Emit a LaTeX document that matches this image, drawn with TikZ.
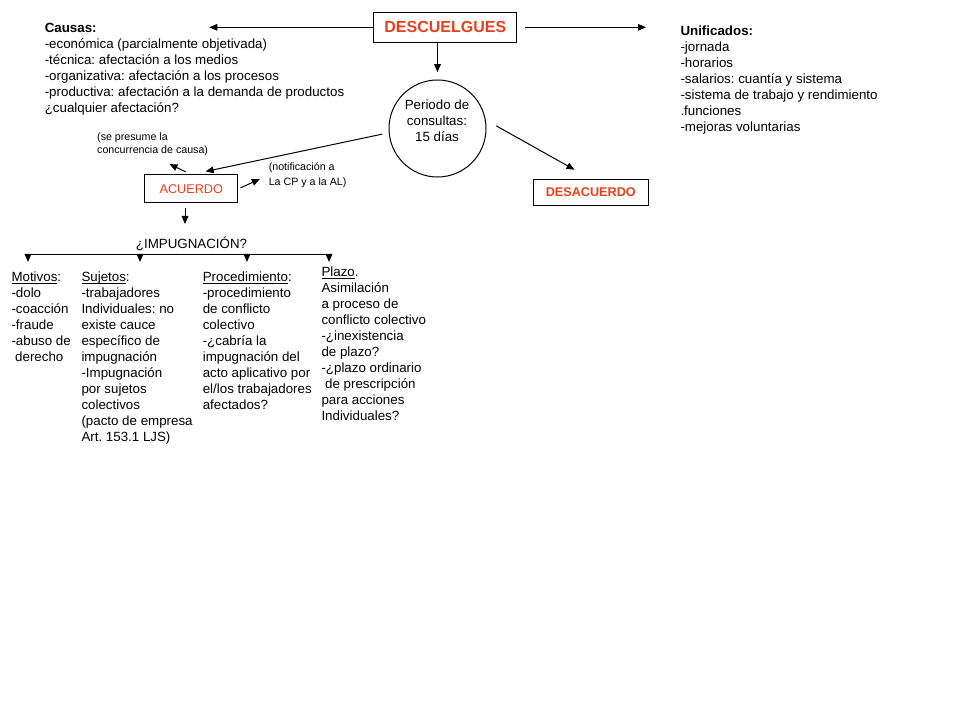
\documentclass[tikz,border=0pt]{standalone}
\usepackage{fontspec}
\setmainfont{Liberation Sans}
\usetikzlibrary{arrows.meta,calc}
\definecolor{descred}{RGB}{232,64,28}
\newcommand{\hdr}[1]{{\setbox0\hbox{#1}\dp0=0pt\underline{\box0}}}
\frenchspacing
\tikzset{every picture/.style={line width=0.75pt}}
\tikzset{
  arr/.style={-{Triangle[length=6pt,width=5pt]}},
  redbox/.style={draw, text=descred, inner sep=0pt},
  txt/.style={anchor=north west, inner sep=0pt, align=left, font=\fontsize{10pt}{12pt}\selectfont},
  smalltxt/.style={anchor=north west, inner sep=0pt, align=left, font=\fontsize{8pt}{9.5pt}\selectfont},
}

\begin{document}
\begin{tikzpicture}[x=0.75pt,y=0.75pt,yscale=-1,xscale=1]
\useasboundingbox (0,0) rectangle (960,720);

%Shape: Rectangle [DESCUELGUES]
\draw (445.3,27.3) node (desc) [redbox, minimum width=107pt, minimum height=22.5pt, font=\fontsize{12pt}{14pt}\selectfont\bfseries] {DESCUELGUES};
%Shape: Circle [periodo]
\draw (437.5,128.5) node (periodo) [draw, circle, minimum size=72.75pt, inner sep=0pt] {};
%Shape: Rectangle [ACUERDO]
\draw (191.3,189) node (acuerdo) [redbox, minimum width=69.5pt, minimum height=21pt, font=\fontsize{9.5pt}{11pt}\selectfont] {ACUERDO\hspace{6pt}};
%Shape: Rectangle [DESACUERDO]
\draw (590.8,192.2) node (desacuerdo) [redbox, minimum width=86.25pt, minimum height=19.3pt, font=\fontsize{9.5pt}{11pt}\selectfont\bfseries] {DESACUERDO};

% Text Node
\draw (437,120.7) node (perlbl) [inner sep=0pt, align=center, font=\fontsize{10pt}{12pt}\selectfont] {Periodo de\\consultas:\\15 días};
% Text Node
\draw (44.3,22.5) node (causas) [txt] {\textbf{Causas:}\\-económica (parcialmente objetivada)\\-técnica: afectación a los medios\\-organizativa: afectación a los procesos\\-productiva: afectación a la demanda de productos\\¿cualquier afectación?};
% Text Node
\draw (680,25.5) node (unif) [txt] {\textbf{Unificados:}\\-jornada\\-horarios\\-salarios: cuantía y sistema\\-sistema de trabajo y rendimiento\\.funciones\\-mejoras voluntarias};
% Text Node
\draw (96.7,132.5) node (presume) [smalltxt] {(se presume la\\concurrencia de causa)};
% Text Node
\draw (268.3,162.5) node (notif) [smalltxt, font=\fontsize{8pt}{10.7pt}\selectfont] {(notificación a\\La CP y a la AL)};
% Text Node
\draw (191.5,244) node (impug) [inner sep=0pt, font=\fontsize{10pt}{12pt}\selectfont] {¿IMPUGNACIÓN?};
% Text Node
\draw (11,271) node (motivos) [txt] {\hdr{Motivos}:\\-dolo\\-coacción\\-fraude\\-abuso de\\\ derecho};
% Text Node
\draw (81,271) node (sujetos) [txt] {\hdr{Sujetos}:\\-trabajadores\\Individuales: no\\existe cauce\\específico de\\impugnación\\-Impugnación\\por sujetos\\colectivos\\(pacto de empresa\\Art. 153.1 LJS)};
% Text Node
\draw (202.3,271) node (proced) [txt] {\hdr{Procedimiento}:\\-procedimiento\\de conflicto\\colectivo\\-¿cabría la\\impugnación del\\acto aplicativo por\\el/los trabajadores\\afectados?};
% Text Node
\draw (321,266.5) node (plazo) [txt] {\hdr{Plazo}.\\Asimilación\\a proceso de\\conflicto colectivo\\-¿inexistencia\\de plazo?\\-¿plazo ordinario\\\ de prescripción\\para acciones\\Individuales?};

%Coordinates
\coordinate (cL) at (209.3,27.3);
\coordinate (cR) at (646,27.3);
\coordinate (aS) at (185,203);
\coordinate (iN) at (185,224);
\coordinate (b1) at (28,254.5);
\coordinate (b2) at (140,254.5);
\coordinate (b3) at (247,254.5);
\coordinate (b4) at (329,254.5);
\coordinate (t1) at (28,262);
\coordinate (t2) at (140,262);
\coordinate (t3) at (247,262);
\coordinate (t4) at (329,262);

%Straight Lines
\draw [arr] (desc.west) -- (cL);
%Straight Lines
\draw [arr, shorten <=6.2pt] (desc.east) -- (cR);
%Straight Lines
\draw [arr, shorten >=5.5pt] (desc.south -| periodo.north) -- (periodo.north);
%Straight Lines
\draw [arr, shorten <=4.9pt, shorten >=11pt] (periodo.185) -- (acuerdo.north);
%Straight Lines
\draw [arr, shorten <=9pt, shorten >=14pt] (periodo.10) -- (desacuerdo.north);
%Straight Lines
\draw [arr, shorten <=4.7pt, shorten >=14pt] (acuerdo.north) -- (presume.south);
%Straight Lines
\draw [arr, shorten <=2pt, shorten >=7pt] (acuerdo.east) -- (notif.west);
%Straight Lines
\draw [arr, shorten <=3.75pt] (aS) -- (iN);
%Straight Lines
\draw (b1) -- (b4);
%Straight Lines
\draw [arr] (b1) -- (t1);
\draw [arr] (b2) -- (t2);
\draw [arr] (b3) -- (t3);
\draw [arr] (b4) -- (t4);

\end{tikzpicture}
\end{document}
